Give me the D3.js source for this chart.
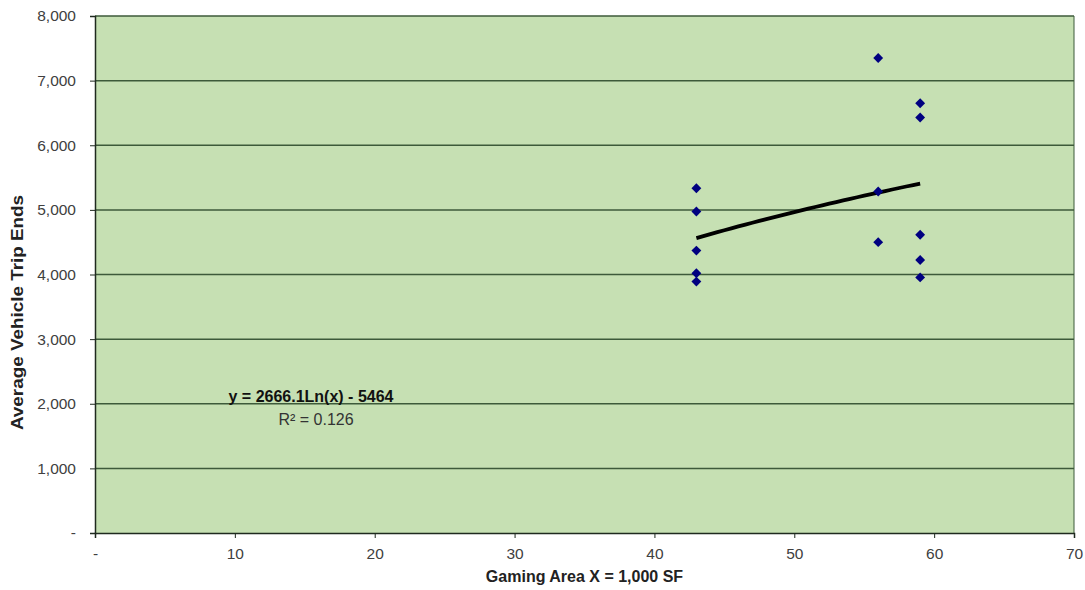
<!DOCTYPE html>
<html>
<head>
<meta charset="utf-8">
<script src="https://cdn.jsdelivr.net/npm/d3@7"></script>
<style>
  body { margin: 0; background: #fff; }
  text { font-family: "Liberation Sans", Arial, sans-serif; }
</style>
</head>
<body>
<div id="chart"></div>
<script>
'use strict';

// gaming area (1,000 SF) and average vehicle trip ends
var gamingArea = [43, 43, 43, 43, 43, 56, 56, 56, 59, 59, 59, 59, 59];
var tripEnds   = [5335, 4975, 4370, 4020, 3890, 7350, 5285, 4500, 6650, 6430, 4615, 4225, 3955];
var xTicks = [0, 10, 20, 30, 40, 50, 60, 70];
var yTicks = [0, 1000, 2000, 3000, 4000, 5000, 6000, 7000, 8000];
// logarithmic trendline as shown on the chart
var trendCoef = [2666.1, -5464];
var trendRange = [43, 59];
var trendLabel = 'y = 2666.1Ln(x) - 5464';
var r2Label = 'R\u00b2 = 0.126';

var width = 1085, height = 590,
    margin = {top: 16, right: 11, bottom: 57, left: 95};

var svg = d3.select('#chart').append('svg')
    .attr('width', width)
    .attr('height', height);

var x = d3.scaleLinear().domain([0, 70]).range([margin.left, width - margin.right]);
var y = d3.scaleLinear().domain([0, 8000]).range([height - margin.bottom, margin.top]);

var fmt = function(d){ return d === 0 ? '-' : d3.format(',')(d); };

// plot background
svg.append('rect')
    .attr('x', x(0))
    .attr('y', y(8000))
    .attr('width', x(70) - x(0))
    .attr('height', y(0) - y(8000))
    .attr('fill', '#c6e0b3');

// horizontal gridlines
svg.append('g')
    .selectAll('line')
    .data(yTicks.filter(function(d){ return d > 0; }))
    .enter().append('line')
    .attr('x1', x(0))
    .attr('x2', x(70))
    .attr('y1', function(d){ return y(d); })
    .attr('y2', function(d){ return y(d); })
    .attr('stroke', '#3d5a3a')
    .attr('stroke-width', 1.5);

// right border
svg.append('line')
    .attr('x1', x(70)).attr('x2', x(70))
    .attr('y1', y(8000)).attr('y2', y(0))
    .attr('stroke', '#3d5a3a')
    .attr('stroke-width', 1);

// axes
var yAxis = svg.append('g')
    .attr('transform', 'translate(' + x(0) + ',0)')
    .call(d3.axisLeft(y).tickValues(yTicks).tickFormat(fmt).tickSize(5).tickPadding(14));
var xAxis = svg.append('g')
    .attr('transform', 'translate(0,' + y(0) + ')')
    .call(d3.axisBottom(x).tickValues(xTicks).tickFormat(fmt).tickSize(5).tickPadding(10));

[xAxis, yAxis].forEach(function(ax){
    ax.select('.domain').attr('stroke', '#1f2a1f').attr('stroke-width', 1.5);
    ax.selectAll('.tick line').attr('stroke', '#1f2a1f');
    ax.selectAll('.tick text')
        .attr('fill', '#404040')
        .style('font-size', '15.5px')
        .style('font-family', '"Liberation Sans", Arial, sans-serif');
});

// trendline
var trendX = d3.range(trendRange[0], trendRange[1] + 0.01, 0.5);
var line = d3.line()
    .x(function(d){ return x(d); })
    .y(function(d){ return y(trendCoef[0] * Math.log(d) + trendCoef[1]); });
svg.append('path')
    .datum(trendX)
    .attr('d', line)
    .attr('fill', 'none')
    .attr('stroke', '#000')
    .attr('stroke-width', 3.8);

// data points
svg.append('g')
    .selectAll('path')
    .data(tripEnds)
    .enter().append('path')
    .attr('d', d3.symbol().type(d3.symbolDiamond2).size(62))
    .attr('transform', function(d, i){ return 'translate(' + x(gamingArea[i]) + ',' + y(d) + ')'; })
    .attr('fill', '#000080');

// trendline equation
svg.append('text')
    .attr('x', 311)
    .attr('y', 402)
    .attr('text-anchor', 'middle')
    .attr('font-size', '16px')
    .attr('font-weight', 'bold')
    .attr('fill', '#111')
    .text(trendLabel);
svg.append('text')
    .attr('x', 316)
    .attr('y', 425)
    .attr('text-anchor', 'middle')
    .attr('font-size', '16px')
    .attr('fill', '#333')
    .text(r2Label);

// axis titles
svg.append('text')
    .attr('x', (x(0) + x(70)) / 2)
    .attr('y', 582)
    .attr('text-anchor', 'middle')
    .attr('font-size', '16px')
    .attr('font-weight', 'bold')
    .attr('fill', '#222')
    .text('Gaming Area X = 1,000 SF');
svg.append('text')
    .attr('transform', 'translate(23,' + ((y(0) + y(8000)) / 2 + 38) + ') rotate(-90) scale(1.18,1)')
    .attr('text-anchor', 'middle')
    .attr('font-size', '16px')
    .attr('font-weight', 'bold')
    .attr('fill', '#222')
    .text('Average Vehicle Trip Ends');
</script>
</body>
</html>
